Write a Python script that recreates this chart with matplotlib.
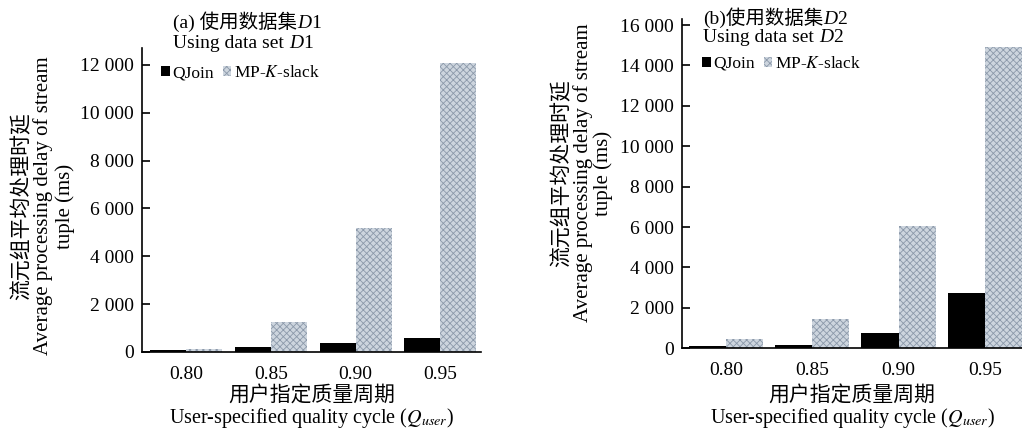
import numpy as np
import matplotlib
matplotlib.use("Agg")
import matplotlib.pyplot as plt
from matplotlib.text import Annotation
from matplotlib.ticker import FuncFormatter

plt.rcParams.update({
    "font.family": ["Liberation Serif", "Noto Sans CJK SC"],
    "mathtext.fontset": "stix",
    "font.size": 13,
    "hatch.linewidth": 0.6,
})

# data
cycles = ["0.80", "0.85", "0.90", "0.95"]
qjoin_d1 = [70, 220, 360, 600]
mpk_d1 = [120, 1240, 5200, 12070]
qjoin_d2 = [100, 150, 780, 2750]
mpk_d2 = [470, 1450, 6050, 14900]
yticks_d1 = [0, 2000, 4000, 6000, 8000, 10000, 12000]
yticks_d2 = [0, 2000, 4000, 6000, 8000, 10000, 12000, 14000, 16000]

W, H = 1022, 432
fig = plt.figure(figsize=(W / 100, H / 100), dpi=100)

def px(x0, y0, x1, y1):
    return [x0 / W, 1 - y1 / H, (x1 - x0) / W, (y1 - y0) / H]

def thousands(v, pos):
    return f"{int(v):,}".replace(",", " ")

GRAY = "#cdd5de"
HATCH_EDGE = "#8c99aa"

def panel(rect, q, m, yticks, ylim, xlim, width):
    ax = fig.add_axes(rect)
    x = np.arange(len(cycles))
    b1 = ax.bar(x - width / 2, q, width, color="black", label="QJoin")
    b2 = ax.bar(x + width / 2, m, width, color=GRAY, edgecolor=HATCH_EDGE,
                hatch="xxxxx", linewidth=0, label="MP-$K$-slack")
    ax.set_xticks(x)
    ax.set_xticklabels(cycles)
    ax.set_yticks(yticks)
    ax.yaxis.set_major_formatter(FuncFormatter(thousands))
    ax.set_ylim(*ylim)
    ax.set_xlim(*xlim)
    for s in ["top", "right"]:
        ax.spines[s].set_visible(False)
    ax.spines["left"].set_linewidth(1.2)
    ax.spines["bottom"].set_linewidth(1.2)
    ax.tick_params(axis="y", direction="in", length=6, width=1.2, pad=6, labelsize=14)
    ax.tick_params(axis="x", length=0, pad=10, labelsize=14)
    return ax, b1, b2

axA, a1, a2 = panel(px(142, 48, 481, 352), qjoin_d1, mpk_d1, yticks_d1,
                    (0, 12700), (-0.52, 3.48), 0.425)
axB, c1, c2 = panel(px(682, 19, 1022, 348.3), qjoin_d2, mpk_d2, yticks_d2,
                    (0, 16300), (-0.51, 3.43), 0.43)

def textrow(x, y, parts, size):
    # pieces written one after the other, so the italic D can follow Chinese text
    prev = None
    for s, style in parts:
        if prev is None:
            prev = fig.text(x / W, 1 - y / H, s, ha="left", va="center",
                            fontsize=size, fontstyle=style)
        else:
            prev = fig.add_artist(Annotation(
                s, xy=(1, 0), xycoords=prev, xytext=(0, 0), textcoords="offset points",
                ha="left", va="bottom", fontsize=size, fontstyle=style))
    return prev

# titles inside the plots
textrow(173, 22, [("(a) 使用数据集", "normal"), ("D", "italic"), ("1", "normal")], 14)
textrow(173, 43, [("Using data set ", "normal"), ("D", "italic"), ("1", "normal")], 14)
textrow(703, 18, [("(b)使用数据集", "normal"), ("D", "italic"), ("2", "normal")], 14)
textrow(703, 38, [("Using data set ", "normal"), ("D", "italic"), ("2", "normal")], 14)

# legends
for ax, h, (lx, ly) in [(axA, [a1, a2], (161, 73)), (axB, [c1, c2], (702, 64))]:
    ax.legend(h, ["QJoin", "MP-$K$-slack"], loc="center left",
              bbox_to_anchor=(lx / W, 1 - ly / H), bbox_transform=fig.transFigure,
              ncol=2, frameon=False, fontsize=12.5, handlelength=0.5,
              handleheight=0.5, handletextpad=0.15, columnspacing=0.5,
              borderpad=0, borderaxespad=0)

# x axis labels
for cx in [311.5, 852]:
    fig.text(cx / W, 1 - 397 / H, "用户指定质量周期", ha="center", va="center", fontsize=15)
    fig.text(cx / W, 1 - 418 / H, "User-specified quality cycle ($Q_{user}$)",
             ha="center", va="center", fontsize=14.5)

# y axis labels
for (x1, x2, x3, cy) in [(22, 43, 65, 206), (562, 583, 603, 173)]:
    fig.text(x1 / W, 1 - cy / H, "流元组平均处理时延", rotation=90,
             ha="center", va="center", fontsize=15)
    fig.text(x2 / W, 1 - cy / H, "Average processing delay of stream", rotation=90,
             ha="center", va="center", fontsize=15)
    fig.text(x3 / W, 1 - cy / H, "tuple (ms)", rotation=90,
             ha="center", va="center", fontsize=15)

fig.savefig("out.png", dpi=100)
